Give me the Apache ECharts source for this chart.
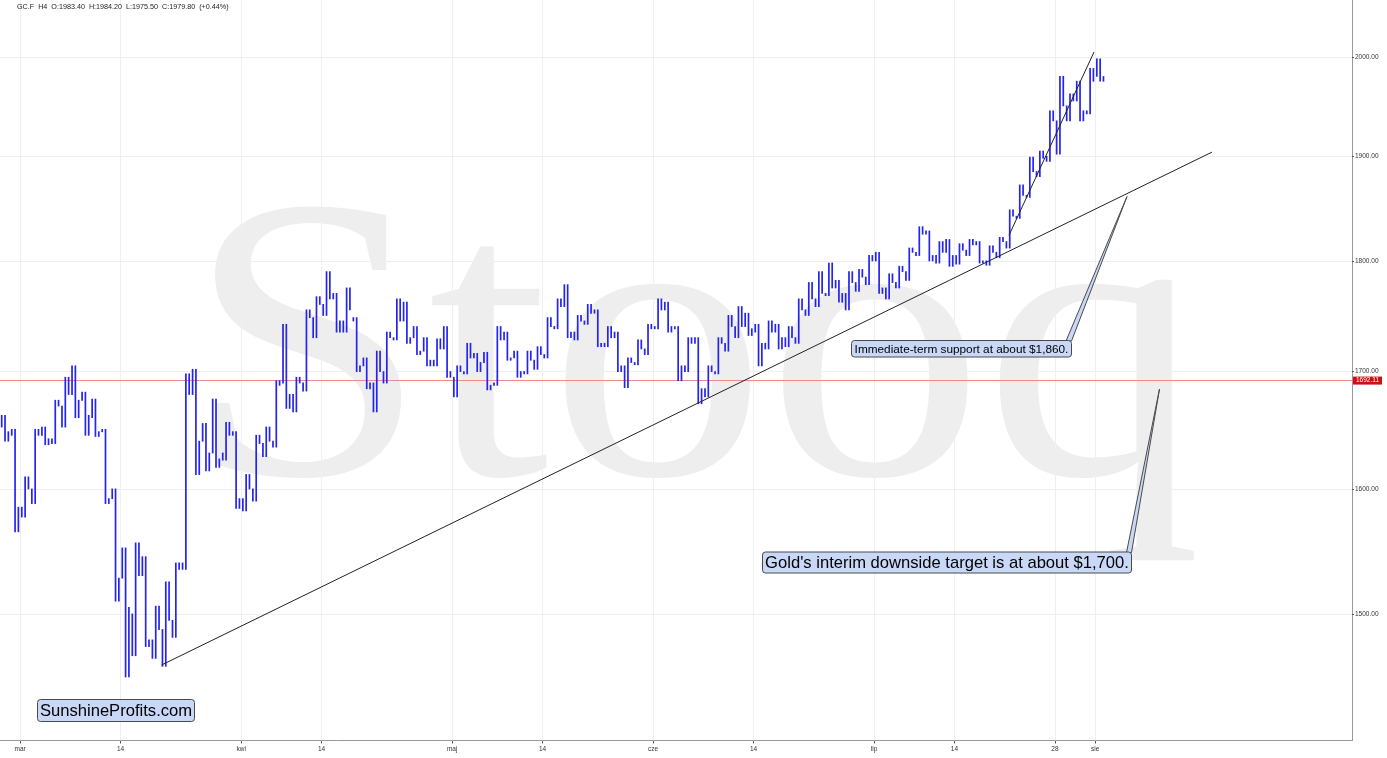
<!DOCTYPE html>
<html><head><meta charset="utf-8">
<script src="https://cdn.jsdelivr.net/npm/echarts@6/dist/echarts.min.js"></script>
<style>html,body{margin:0;padding:0;background:#fff;overflow:hidden}#c{width:1387px;height:758px}</style>
</head><body><div id="c"></div>
<script>
// ---- data ----
const dates = [
 '2020-02-27','2020-02-28',
 '2020-03-02','2020-03-03','2020-03-04','2020-03-05','2020-03-06','2020-03-09','2020-03-10','2020-03-11','2020-03-12','2020-03-13',
 '2020-03-16','2020-03-17','2020-03-18','2020-03-19','2020-03-20','2020-03-23','2020-03-24','2020-03-25','2020-03-26','2020-03-27',
 '2020-03-30','2020-03-31',
 '2020-04-01','2020-04-02','2020-04-03','2020-04-06','2020-04-07','2020-04-08','2020-04-09','2020-04-13','2020-04-14','2020-04-15',
 '2020-04-16','2020-04-17','2020-04-20','2020-04-21','2020-04-22','2020-04-23','2020-04-24','2020-04-27','2020-04-28','2020-04-29','2020-04-30',
 '2020-05-01','2020-05-04','2020-05-05','2020-05-06','2020-05-07','2020-05-08','2020-05-11','2020-05-12','2020-05-13','2020-05-14',
 '2020-05-15','2020-05-18','2020-05-19','2020-05-20','2020-05-21','2020-05-22','2020-05-26','2020-05-27','2020-05-28','2020-05-29',
 '2020-06-01','2020-06-02','2020-06-03','2020-06-04','2020-06-05','2020-06-08','2020-06-09','2020-06-10','2020-06-11','2020-06-12',
 '2020-06-15','2020-06-16','2020-06-17','2020-06-18','2020-06-19','2020-06-22','2020-06-23','2020-06-24','2020-06-25','2020-06-26',
 '2020-06-29','2020-06-30',
 '2020-07-01','2020-07-02','2020-07-06','2020-07-07','2020-07-08','2020-07-09','2020-07-10','2020-07-13','2020-07-14','2020-07-15',
 '2020-07-16','2020-07-17','2020-07-20','2020-07-21','2020-07-22','2020-07-23','2020-07-24','2020-07-27','2020-07-28','2020-07-29',
 '2020-07-30','2020-07-31',
 '2020-08-03'
];
const opens = [
 1652,1645,1585,1600,1645,1642,1670,1680,1675,1660,
 1648,1592,1528,1500,1530,1480,1488,1495,1540,1680,
 1640,1630,1630,1645,1592,1600,1638,1640,1690,1680,
 1690,1748,1760,1765,1745,1745,1705,1690,1700,1730,
 1745,1730,1718,1710,1720,1695,1700,1712,1708,1690,
 1728,1712,1700,1710,1715,1740,1758,1735,1745,1752,
 1725,1730,1705,1708,1720,1740,1755,1738,1705,1725,
 1685,1700,1725,1740,1740,1735,1725,1735,1730,1730,
 1755,1765,1770,1775,1770,1780,1785,1800,1775,1780,
 1790,1808,1825,1805,1808,1805,1810,1815,1800,1808,
 1818,1842,1862,1885,1900,1935,1950,1955,1945,1980
];
const highs = [
 1662,1650,1610,1650,1652,1675,1695,1705,1682,1676,
 1650,1600,1552,1556,1545,1506,1525,1540,1698,1702,
 1655,1676,1656,1648,1612,1645,1652,1692,1742,1695,
 1755,1767,1790,1770,1775,1748,1712,1718,1735,1765,
 1762,1740,1730,1729,1740,1705,1725,1716,1717,1740,
 1735,1718,1718,1722,1748,1765,1778,1750,1760,1755,
 1740,1735,1712,1728,1742,1765,1762,1740,1730,1730,
 1705,1730,1750,1758,1752,1742,1745,1742,1740,1765,
 1780,1790,1798,1782,1790,1792,1805,1808,1788,1795,
 1812,1832,1828,1818,1820,1816,1820,1818,1814,1822,
 1848,1872,1899,1905,1945,1980,1962,1975,1988,1998
];
const lows = [
 1640,1565,1577,1588,1637,1638,1652,1660,1645,1644,
 1588,1510,1452,1468,1475,1466,1460,1482,1535,1612,
 1615,1618,1624,1584,1582,1590,1627,1635,1668,1665,
 1683,1730,1750,1735,1735,1700,1685,1665,1690,1728,
 1725,1715,1705,1705,1695,1678,1698,1700,1684,1688,
 1710,1695,1698,1702,1712,1738,1730,1728,1742,1722,
 1722,1700,1686,1706,1715,1738,1735,1692,1700,1672,
 1678,1698,1718,1730,1732,1705,1720,1720,1722,1725,
 1750,1758,1768,1762,1755,1772,1778,1770,1765,1775,
 1782,1805,1800,1798,1795,1797,1805,1798,1796,1803,
 1812,1840,1860,1880,1895,1902,1935,1935,1942,1975
];
const closes = [
 1648,1585,1600,1645,1642,1670,1680,1675,1662,1648,
 1592,1528,1505,1530,1480,1488,1495,1535,1680,1640,
 1630,1625,1645,1592,1600,1638,1640,1688,1680,1690,
 1748,1760,1765,1745,1755,1705,1690,1700,1730,1745,
 1730,1718,1710,1720,1700,1700,1712,1708,1688,1728,
 1712,1700,1710,1715,1740,1758,1735,1745,1752,1725,
 1730,1705,1708,1720,1738,1755,1740,1705,1725,1685,
 1700,1725,1740,1740,1738,1725,1735,1730,1730,1755,
 1765,1770,1775,1770,1780,1785,1800,1775,1780,1790,
 1808,1825,1805,1808,1805,1810,1815,1800,1808,1818,
 1842,1862,1885,1898,1935,1950,1955,1945,1975,1979.8
];
const xTickDates = ['2020-03-02','2020-03-16','2020-04-01','2020-04-14','2020-05-01','2020-05-14','2020-06-01','2020-06-15','2020-07-01','2020-07-14','2020-07-28','2020-08-03'];
const xTickTexts = ['mar','14','kwi','14','maj','14','cze','14','lip','14','28','sie'];
const yTicks = [1500, 1600, 1700, 1800, 1900, 2000];
const levelPrice = 1692.11;
const lastPrice = 1979.80;
// trend lines: [trading-day position, price]
const supportLine = [[16.09, 1461], [120.63, 1904]];
const steepLine = [[100.43, 1824], [108.89, 2005]];
const headerText = 'GC.F  H4  O:1983.40  H:1984.20  L:1975.50  C:1979.80  (+0.44%)';

// ---- layout ----
const PLOT_RIGHT = 1352, PLOT_BOTTOM = 740.5, DAY_PX = 10.047;
const xMax = PLOT_RIGHT / DAY_PX;
const yMin = 1405.1, yMax = 2059.6;

const ohlc = dates.map((d, i) => [i + 0.5, opens[i], highs[i], lows[i], closes[i]]);
const xTickPos = xTickDates.map(d => dates.indexOf(d));
const labelMap = {};
xTickPos.forEach((p, k) => { labelMap[p] = xTickTexts[k]; });

const BAR = '#2424ee';
const BOXFILL = '#c9d8f6';
const BOXLINE = '#4a4a4a';
const SANS = '"Liberation Sans", Arial, Helvetica, sans-serif';

const chart = echarts.init(document.getElementById('c'), null, {renderer: 'canvas'});

function callout(box, base, tip, text, fontSize) {
  return [
    {type: 'polygon', z: 20, shape: {points: [[base[0], base[1]], [base[2], base[1]], tip]},
     style: {fill: BOXFILL, stroke: BOXLINE, lineWidth: 1}},
    {type: 'rect', z: 21, shape: {x: box[0], y: box[1], width: box[2], height: box[3], r: 3},
     style: {fill: BOXFILL, stroke: BOXLINE, lineWidth: 1}},
    {type: 'text', z: 22, x: box[0] + box[2] / 2, y: box[1] + box[3] / 2 + 0.5,
     style: {text: text, fill: '#000', font: fontSize + 'px ' + SANS, align: 'center', verticalAlign: 'middle'}}
  ];
}

const graphics = [
  {type: 'text', z: 0, zlevel: 0, x: 186, y: 368, scaleX: 1.012, scaleY: 0.94,
   style: {text: 'Stooq', fill: '#eeeeee', font: '430px "Liberation Serif", "DejaVu Serif", serif', verticalAlign: 'middle'}},
  {type: 'text', z: 30, x: 17, y: 7,
   style: {text: headerText, fill: '#222', font: '7.2px ' + SANS, verticalAlign: 'middle'}},
  ...callout([851.5, 340.5, 220, 16.5], [1066, 341, 1071.5], [1127, 196.5], 'Immediate-term support at about $1,860.', 11.8),
  ...callout([762.5, 552, 369, 21], [1126.5, 552.5, 1131.5], [1159.5, 389], "Gold's interim downside target is at about $1,700.", 16.6),
  {type: 'rect', z: 21, shape: {x: 37.5, y: 699.5, width: 157, height: 22, r: 3},
   style: {fill: BOXFILL, stroke: BOXLINE, lineWidth: 1}},
  {type: 'text', z: 22, x: 116, y: 711,
   style: {text: 'SunshineProfits.com', fill: '#000', font: '16.6px ' + SANS, align: 'center', verticalAlign: 'middle'}}
];

const option = {
  animation: false,
  backgroundColor: '#ffffff',
  grid: {left: 0, top: 0, right: 1387 - PLOT_RIGHT, bottom: 758 - PLOT_BOTTOM, containLabel: false},
  xAxis: {
    type: 'value', min: 0, max: xMax,
    axisLine: {show: true, lineStyle: {color: '#999', width: 1}},
    axisTick: {show: true, customValues: xTickPos, length: 3, lineStyle: {color: '#555'}},
    axisLabel: {show: true, customValues: xTickPos, fontSize: 6.5, color: '#333', margin: 5, fontFamily: SANS,
      formatter: v => labelMap[Math.round(v)] || ''},
    splitLine: {show: false}
  },
  yAxis: {
    type: 'log', logBase: 10, position: 'right', min: yMin, max: yMax,
    axisLine: {show: true, onZero: false, lineStyle: {color: '#999', width: 1}},
    axisTick: {show: true, customValues: yTicks, length: 2, lineStyle: {color: '#555'}},
    axisLabel: {show: true, customValues: yTicks, fontSize: 6.5, color: '#333', margin: 3, fontFamily: SANS,
      formatter: v => Number(v).toFixed(2)},
    splitLine: {show: false}
  },
  graphic: graphics,
  series: [
    {
      type: 'line', data: [], z: 1, silent: true,
      markLine: {
        silent: true, symbol: 'none', animation: false,
        label: {show: false},
        lineStyle: {color: '#efefef', width: 1, type: 'solid'},
        data: yTicks.map(v => ({yAxis: v})).concat(xTickPos.map(p => ({xAxis: p})))
      }
    },
    {
      // each trading day drawn as three vertical strokes: open->first extreme, low->high, second extreme->close
      type: 'custom', z: 5, data: ohlc,
      encode: {x: 0, y: [1, 2, 3, 4]},
      renderItem: function (params, api) {
        const x = api.value(0);
        const o = api.value(1), h = api.value(2), l = api.value(3), c = api.value(4);
        const up = c >= o;
        const e1 = up ? l : h, e2 = up ? h : l;
        const x0 = api.coord([x - 0.5, h])[0];
        const w = api.coord([x + 0.5, h])[0] - x0;
        const y = v => api.coord([x, v])[1];
        const seg = (fx, a, b) => ({type: 'line',
          shape: {x1: x0 + w * fx, y1: y(a) - 0.4, x2: x0 + w * fx, y2: y(b) + 0.4},
          style: {stroke: BAR, lineWidth: 1.7}});
        return {type: 'group', children: [
          seg(0.17, Math.max(o, e1), Math.min(o, e1)),
          seg(0.5, h, l),
          seg(0.83, Math.max(c, e2), Math.min(c, e2))
        ]};
      }
    },
    {
      type: 'line', z: 6, data: supportLine, showSymbol: false, symbol: 'none', silent: true,
      lineStyle: {color: '#222', width: 1}
    },
    {
      type: 'line', z: 6, data: steepLine, showSymbol: false, symbol: 'none', silent: true,
      lineStyle: {color: '#222', width: 1},
      markLine: {
        silent: true, symbol: 'none', animation: false,
        data: [
          {yAxis: levelPrice, lineStyle: {color: '#ee8a8a', width: 1.2, type: 'solid'},
           label: {show: true, position: 'end', distance: 1, formatter: levelPrice.toFixed(2), color: '#fff',
             backgroundColor: '#cc1111', padding: [1, 3, 0, 3], fontSize: 6.5, fontFamily: SANS}},
          {yAxis: lastPrice, lineStyle: {opacity: 0, width: 0},
           label: {show: true, position: 'end', distance: 1, formatter: lastPrice.toFixed(2), color: '#fff',
             backgroundColor: '#000', padding: [1, 3, 0, 3], fontSize: 6.5, fontFamily: SANS}}
        ]
      }
    }
  ]
};
chart.setOption(option);
</script>
</body></html>
